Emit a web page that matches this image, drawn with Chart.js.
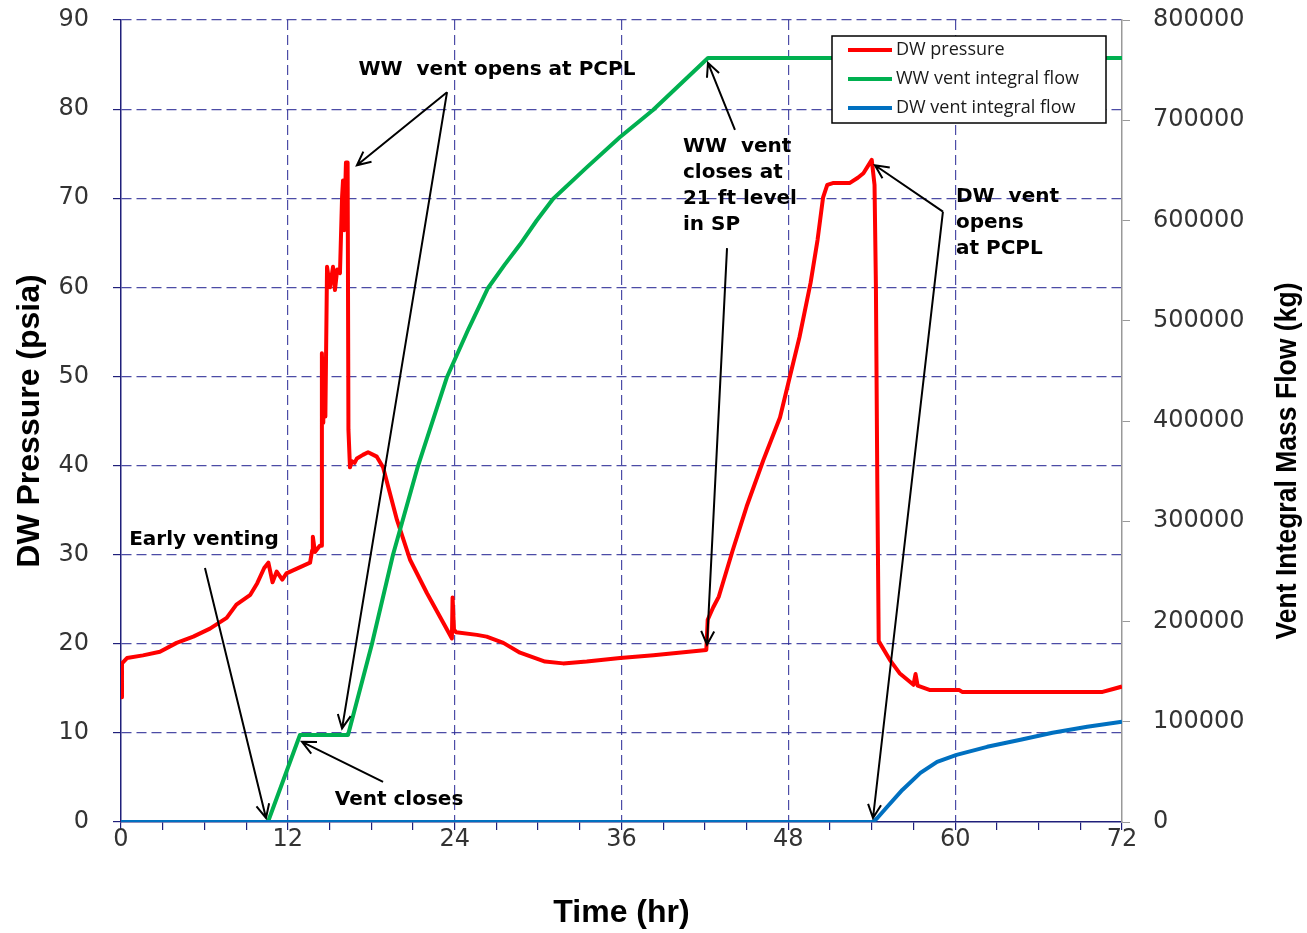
<!DOCTYPE html>
<html>
<head>
<meta charset="utf-8">
<script src="https://cdn.jsdelivr.net/npm/chart.js@4.4.1/dist/chart.umd.min.js"></script>
<style>
  html, body { margin: 0; padding: 0; background: #fff; }
  #wrap { width: 1307px; height: 933px; }
</style>
</head>
<body>
<div id="wrap"><canvas id="grafico" width="1307" height="933"></canvas></div>
<script>
// Presión del drywell (psia) contra tiempo (hr)
const tiempoDW = [0, 0.07, 0.43, 1.58, 2.8, 4.0, 5.2, 6.4, 7.6, 8.3, 9.3, 9.8, 10.3, 10.6, 10.9, 11.2, 11.6, 11.9,
  13.6, 13.75, 13.8, 13.95, 14.3, 14.42, 14.45, 14.55, 14.62, 14.7, 14.82, 15.03, 15.25, 15.39, 15.55, 15.75,
  15.9, 15.97, 16.05, 16.18, 16.3, 16.36, 16.47, 16.6, 16.8, 16.97, 17.4, 17.77, 18.4, 18.85, 19.85, 20.8,
  22.0, 23.2, 23.8, 23.85, 23.95, 24.1, 25.6, 26.3, 27.5, 28.7, 30.5, 31.8, 33.5, 35.9, 38.3, 42.1, 42.2,
  42.6, 43.0, 44.0, 45.0, 46.2, 47.4, 48.1, 48.8, 49.6, 50.1, 50.5, 50.8, 51.2, 52.4, 53.0, 53.4, 54.0,
  54.2, 54.3, 54.4, 54.5, 55.3, 56.0, 57.0, 57.15, 57.3, 58.2, 60.3, 60.5, 70.6, 71.3, 72];
const presionDW = [14.0, 17.8, 18.4, 18.7, 19.1, 20.1, 20.8, 21.7, 22.9, 24.4, 25.5, 26.8, 28.5, 29.1, 26.9, 28.1, 27.2, 27.9,
  29.1, 30.5, 32.0, 30.3, 31.0, 31.0, 52.6, 44.8, 52.0, 45.5, 62.3, 60.0, 62.3, 59.7, 62.0, 61.6,
  70.1, 72.0, 66.4, 74.0, 74.0, 44.0, 39.8, 40.5, 40.3, 40.8, 41.2, 41.5, 41.0, 39.8, 33.9, 29.4,
  25.7, 22.3, 20.6, 25.2, 21.6, 21.3, 21.0, 20.8, 20.1, 19.0, 18.0, 17.8, 18.0, 18.4, 18.7, 19.3, 22.7,
  24.1, 25.3, 30.5, 35.4, 40.6, 45.4, 49.9, 54.4, 60.5, 65.3, 70.1, 71.5, 71.7, 71.7, 72.3, 72.8, 74.3,
  71.5, 60.0, 38.0, 20.3, 18.2, 16.7, 15.4, 16.6, 15.3, 14.8, 14.8, 14.6, 14.6, 14.9, 15.2];

// Flujo integral del venteo WW (kg)
const tiempoWW = [0, 10.57, 12.87, 16.33, 18.05, 19.56, 21.36, 23.45, 25.0, 26.4, 27.6, 28.7, 29.9, 31.07, 33.5, 35.9, 38.27, 42.22, 72];
const flujoWW = [0, 0, 86800, 86800, 177600, 266300, 355100, 443900, 492000, 532700, 556000, 576000, 600000, 621400, 653000, 683300, 710200, 762100, 762100];

// Flujo integral del venteo DW (kg)
const tiempoDWv = [0, 54.1, 54.4, 55.1, 56.2, 57.5, 58.7, 60.1, 62.3, 64.7, 67.0, 69.5, 72];
const flujoDWv = [0, 0, 4000, 15000, 32000, 49000, 60000, 67000, 75000, 82000, 89000, 95000, 100000];

const etiquetas = ['DW pressure', 'WW vent integral flow', 'DW vent integral flow'];
const tituloX = 'Time (hr)';
const tituloY = 'DW Pressure (psia)';
const tituloY1 = 'Vent Integral Mass Flow (kg)';

// Notas: texto y punto de anclaje en (hr, psia)
const notas = [
  { lineas: ['WW  vent opens at PCPL'], t: 27.04, p: 84.4, alinear: 'center' },
  { lineas: ['Early venting'], t: 5.97, p: 31.65, alinear: 'center' },
  { lineas: ['Vent closes'], t: 20.0, p: 2.47, alinear: 'center' },
  { lineas: ['WW  vent', 'closes at', '21 ft level', 'in SP'], t: 40.42, p: 75.75, alinear: 'left' },
  { lineas: ['DW  vent', 'opens', 'at PCPL'], t: 60.06, p: 70.14, alinear: 'left' }
];
// Flechas: [t inicio, p inicio, t punta, p punta]
const flechas = [
  [23.45, 81.9, 16.97, 73.7],
  [23.45, 81.9, 15.9, 10.5],
  [6.04, 28.5, 10.43, 0.45],
  [18.85, 4.5, 13.02, 9.0],
  [44.16, 77.66, 42.22, 85.2],
  [43.59, 64.4, 42.15, 19.9],
  [59.12, 68.5, 54.23, 73.7],
  [59.12, 68.5, 54.09, 0.45]
];

const colores = ['#ff0000', '#00b050', '#0070c0'];
const azulEje = '#1f1f7a';
const colorRejilla = 'rgba(45, 45, 150, 0.85)';

function puntos(ts, vs) {
  return ts.map((t, i) => ({ x: t, y: vs[i] }));
}

function dibujarFlecha(ctx, x1, y1, x2, y2) {
  const ang = Math.atan2(y2 - y1, x2 - x1);
  const largo = 15, abre = Math.PI / 7;
  ctx.beginPath();
  ctx.moveTo(x1, y1);
  ctx.lineTo(x2, y2);
  ctx.moveTo(x2 - largo * Math.cos(ang - abre), y2 - largo * Math.sin(ang - abre));
  ctx.lineTo(x2, y2);
  ctx.lineTo(x2 - largo * Math.cos(ang + abre), y2 - largo * Math.sin(ang + abre));
  ctx.stroke();
}

// Plugin para notas, flechas, leyenda y título del eje derecho
const anotaciones = {
  id: 'anotaciones',
  afterDatasetsDraw(chart) {
    const { ctx, chartArea, scales } = chart;
    const sx = scales.x, sy = scales.y;
    ctx.save();

    // textos
    ctx.fillStyle = '#000';
    ctx.font = 'bold 20px "DejaVu Sans"';
    ctx.textBaseline = 'middle';
    notas.forEach(n => {
      ctx.textAlign = n.alinear;
      const x = sx.getPixelForValue(n.t);
      const y = sy.getPixelForValue(n.p);
      n.lineas.forEach((l, i) => ctx.fillText(l, x, y + i * 26));
    });

    // flechas
    ctx.strokeStyle = '#000';
    ctx.lineWidth = 2;
    flechas.forEach(f => {
      dibujarFlecha(ctx,
        sx.getPixelForValue(f[0]), sy.getPixelForValue(f[1]),
        sx.getPixelForValue(f[2]), sy.getPixelForValue(f[3]));
    });

    // leyenda
    const lx = chartArea.right - 290, ly = chartArea.top + 16;
    ctx.fillStyle = '#fff';
    ctx.fillRect(lx, ly, 274, 87);
    ctx.strokeStyle = '#000';
    ctx.lineWidth = 1.5;
    ctx.strokeRect(lx, ly, 274, 87);
    ctx.font = '18px "Open Sans"';
    ctx.textAlign = 'left';
    chart.data.datasets.forEach((ds, i) => {
      const yy = ly + 14 + i * 29;
      ctx.strokeStyle = ds.borderColor;
      ctx.lineWidth = 4;
      ctx.beginPath();
      ctx.moveTo(lx + 16, yy);
      ctx.lineTo(lx + 60, yy);
      ctx.stroke();
      ctx.fillStyle = '#1a1a1a';
      ctx.fillText(ds.label, lx + 64, yy);
    });

    // título del eje derecho (se lee de abajo hacia arriba)
    ctx.translate(chartArea.right + 166, chartArea.top + 441);
    ctx.rotate(-Math.PI / 2);
    ctx.font = 'bold 30px "Liberation Sans"';
    const w = ctx.measureText(tituloY1).width;
    ctx.scale(357 / w, 1);
    ctx.textAlign = 'center';
    ctx.fillStyle = '#000';
    ctx.fillText(tituloY1, 0, 0);
    ctx.restore();
  }
};

const fuenteTicks = { family: 'DejaVu Sans', size: 24 };

// Fija el ancho del eje vertical y quita el relleno extra de las etiquetas
function ajustarVertical(ancho) {
  return s => {
    s.width = ancho;
    s.paddingTop = 0;
    s.paddingBottom = 0;
  };
}

new Chart(document.getElementById('grafico').getContext('2d'), {
  type: 'line',
  data: {
    datasets: [
      { label: etiquetas[0], data: puntos(tiempoDW, presionDW), yAxisID: 'y', borderColor: colores[0], borderWidth: 4, order: 3 },
      { label: etiquetas[1], data: puntos(tiempoWW, flujoWW), yAxisID: 'y1', borderColor: colores[1], borderWidth: 4, order: 2 },
      { label: etiquetas[2], data: puntos(tiempoDWv, flujoDWv), yAxisID: 'y1', borderColor: colores[2], borderWidth: 4, order: 1 }
    ]
  },
  options: {
    responsive: false,
    animation: false,
    devicePixelRatio: 1,
    layout: { padding: { top: 20, left: 0, right: 0, bottom: 0 } },
    elements: { point: { radius: 0 }, line: { tension: 0, borderJoinStyle: 'round' } },
    plugins: { legend: { display: false }, tooltip: { enabled: false } },
    scales: {
      x: {
        type: 'linear', min: 0, max: 72,
        afterFit: s => { s.height = 111; s.paddingLeft = 0; s.paddingRight = 0; },
        ticks: {
          stepSize: 3, autoSkip: false, maxRotation: 0, padding: -5,
          callback: v => (v % 12 === 0 ? v : ''),
          font: fuenteTicks, color: '#333'
        },
        grid: {
          color: c => (c.tick && c.tick.value % 12 === 0 && c.tick.value > 0 && c.tick.value < 72) ? colorRejilla : 'transparent',
          lineWidth: 1.2, tickColor: azulEje, tickLength: 8, tickBorderDash: []
        },
        border: { color: azulEje, width: 1.5, dash: [10, 5] },
        title: {
          display: true, text: tituloX, color: '#000',
          font: { family: 'Liberation Sans', size: 32, weight: 'bold' },
          padding: { top: 0, bottom: 1 }
        }
      },
      y: {
        position: 'left', min: 0, max: 90,
        afterFit: ajustarVertical(121),
        ticks: { stepSize: 10, padding: 24, font: fuenteTicks, color: '#333' },
        grid: {
          color: c => (c.tick && c.tick.value > 0) ? colorRejilla : 'transparent',
          lineWidth: 1.2, tickColor: azulEje, tickLength: 8, tickBorderDash: []
        },
        border: { color: azulEje, width: 1.5, dash: [10, 5] },
        title: {
          display: true, text: tituloY, color: '#000',
          font: { family: 'Liberation Sans', size: 32, weight: 'bold' },
          padding: { top: 11, bottom: 0 }
        }
      },
      y1: {
        position: 'right', min: 0, max: 800000,
        afterFit: ajustarVertical(185),
        ticks: {
          stepSize: 100000, padding: 23, font: fuenteTicks, color: '#333',
          callback: v => String(v)
        },
        grid: { drawOnChartArea: false, tickColor: '#999', tickLength: 8 },
        border: { color: '#999', width: 1.5 }
      }
    }
  },
  plugins: [anotaciones]
});
</script>
</body>
</html>
